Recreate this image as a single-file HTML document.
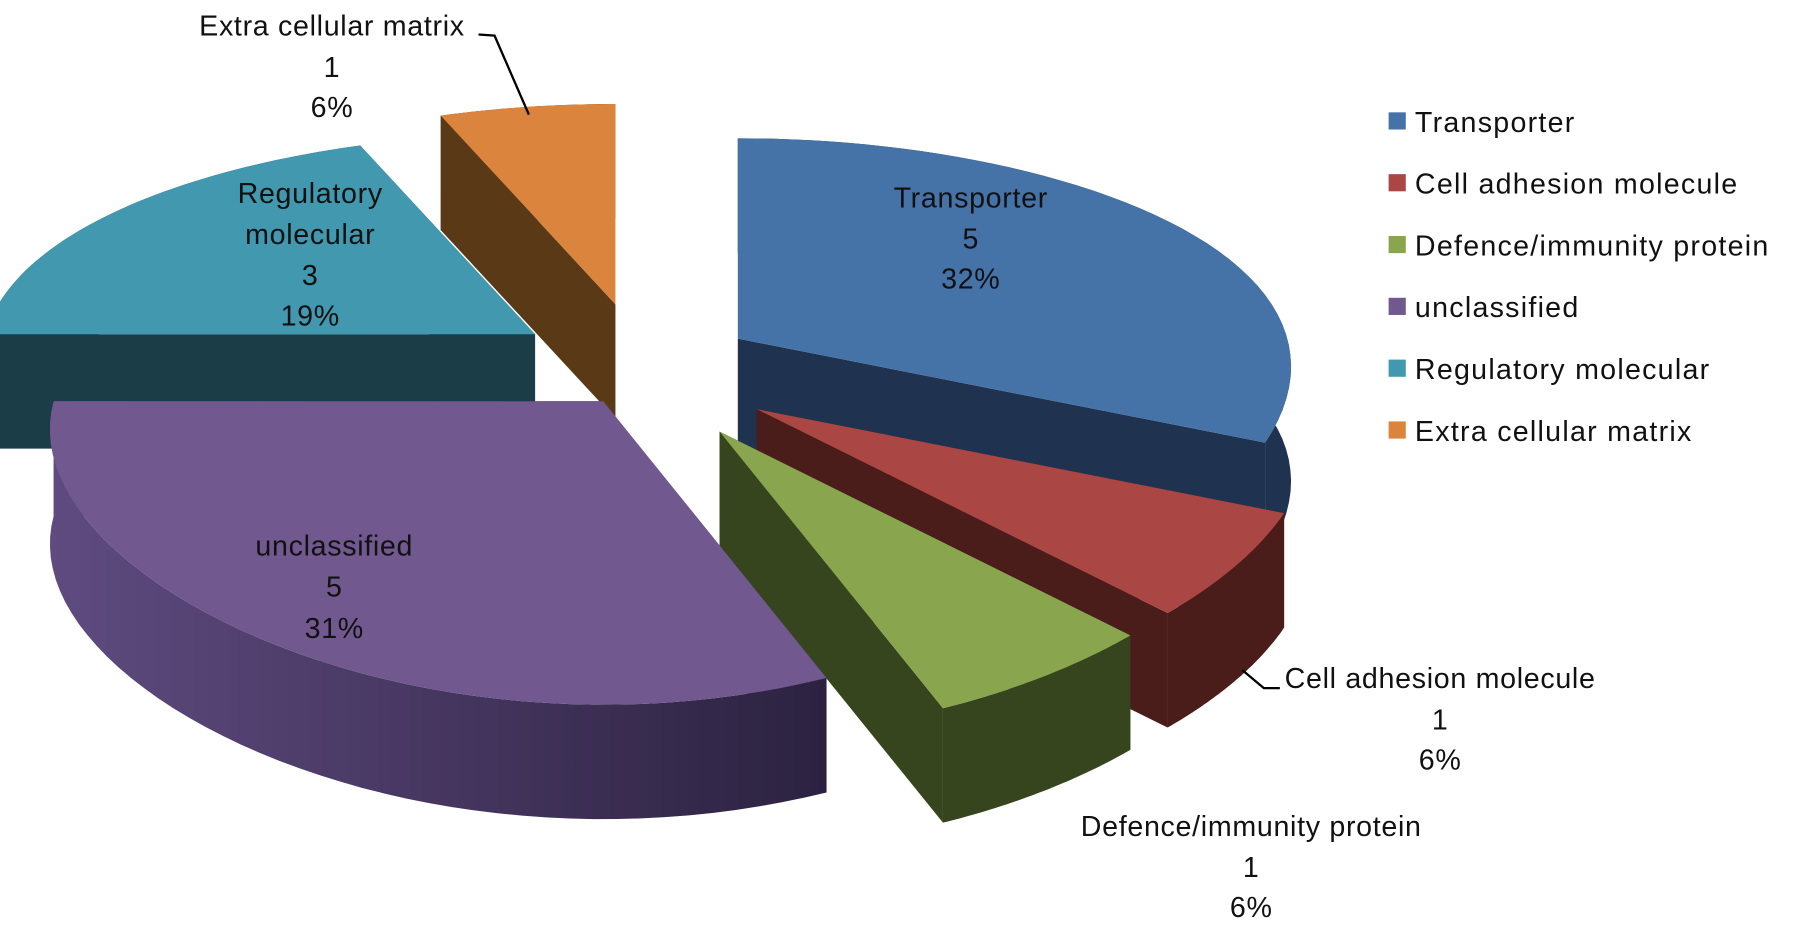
<!DOCTYPE html>
<html><head><meta charset="utf-8"><style>
html,body{margin:0;padding:0;background:#fff;}
svg{display:block;}
text{font-family:"Liberation Sans",sans-serif;font-size:25px;letter-spacing:0.6px;fill:#111;}
#legend text{letter-spacing:1.1px;}
</style></head><body>
<svg id="chart" width="1795" height="931" viewBox="0 0 1568 813" xmlns="http://www.w3.org/2000/svg">
<defs>
<linearGradient id="gU" x1="0" y1="0" x2="1" y2="0">
<stop offset="0" stop-color="#5f4b80"/><stop offset="1" stop-color="#2c2240"/>
</linearGradient>
</defs>
<g id="slices"></g>
<g text-anchor="middle">
<g><text x="290" y="31">Extra cellular matrix</text><text x="290" y="67">1</text><text x="290" y="102">6%</text></g>
<polyline points="418,30 432,31 462,100" fill="none" stroke="#000" stroke-width="2"/>
<g><text x="271" y="177">Regulatory</text><text x="271" y="213">molecular</text><text x="271" y="249">3</text><text x="271" y="284">19%</text></g>
<g><text x="848" y="181">Transporter</text><text x="848" y="217">5</text><text x="848" y="252">32%</text></g>
<g><text x="292" y="485">unclassified</text><text x="292" y="521">5</text><text x="292" y="557">31%</text></g>
<g><text x="1258" y="601">Cell adhesion molecule</text><text x="1258" y="637">1</text><text x="1258" y="672">6%</text></g>
<polyline points="1118,601 1104,601 1085,585" fill="none" stroke="#000" stroke-width="2"/>
<g><text x="1093" y="730">Defence/immunity protein</text><text x="1093" y="766">1</text><text x="1093" y="801">6%</text></g>
</g>
<g id="legend"></g>
</svg>
<script>
const categories = ["Transporter","Cell adhesion molecule","Defence/immunity protein","unclassified","Regulatory molecular","Extra cellular matrix"];
const values = [5,1,1,5,3,1];
const pctLabels = ["32%","6%","6%","31%","19%","6%"];
const explode = [98,118,118,65,115,130];
const topColors = ["#4572a7","#aa4643","#89a54e","#71588f","#4198af","#db843d"];
const sideColors = ["#1f3350","#4a1c1a","#37451f","url(#gU)","#1b3d48","#5a3916"];
const NS="http://www.w3.org/2000/svg";
const D=100,CX=563,CY=318,KYB=0.41,KYF=0.6;
function rx(c){return 480-60*c-30*c*c;}
function ry(c){return 220-45*c;}
function P(t,cx,cy,dz){const s=Math.sin(t),c=Math.cos(t);return [cx+rx(c)*s,cy-ry(c)*c+dz];}
function pts(a){return a.map(p=>p[0].toFixed(1)+","+p[1].toFixed(1)).join(" ");}
const total=values.reduce((a,b)=>a+b,0);
const gS=document.getElementById('slices');
let acc=0;const sl=[];
values.forEach((v,i)=>{const a0=acc/total*2*Math.PI;acc+=v;const a1=acc/total*2*Math.PI;sl.push({i,a0,a1,m:(a0+a1)/2});});
sl.slice().sort((a,b)=>Math.cos(b.m)-Math.cos(a.m)).forEach(s=>{
  const E=explode[s.i],cm=Math.cos(s.m);
  const cx=CX+E*Math.sin(s.m),cy=CY-E*(cm>0?KYB:KYF)*cm;
  const g=document.createElementNS(NS,'g');
  
  
  const arcT=[],arcB=[];const n=48;
  for(let k=0;k<=n;k++){const t=s.a0+(s.a1-s.a0)*k/n;arcT.push(P(t,cx,cy,0));arcB.push(P(t,cx,cy,D));}
  const c0=[cx,cy],c0b=[cx,cy+D];
  const walls=[[c0,arcT[0],arcB[0],c0b],[c0,arcT[n],arcB[n],c0b]];
  walls.forEach(w=>{const p=document.createElementNS(NS,'polygon');
    p.setAttribute('points',pts(w));p.setAttribute('fill',sideColors[s.i]);
    
    
    g.appendChild(p);});
  const side=document.createElementNS(NS,'polygon');
  side.setAttribute('points',pts(arcT.concat(arcB.slice().reverse())));
  side.setAttribute('fill',sideColors[s.i]);
  
  
  g.appendChild(side);
  const top=document.createElementNS(NS,'polygon');
  top.setAttribute('points',pts([c0].concat(arcT)));
  top.setAttribute('fill',topColors[s.i]);
  
  
  g.appendChild(top);
  gS.appendChild(g);
});
const gL=document.getElementById('legend');
categories.forEach((c,i)=>{const y=106+54*i;
  const r=document.createElementNS(NS,'rect');
  r.setAttribute('x',1213);r.setAttribute('y',y-8);r.setAttribute('width',15);r.setAttribute('height',15);r.setAttribute('fill',topColors[i]);
  
  
  gL.appendChild(r);
  const t=document.createElementNS(NS,'text');
  t.setAttribute('x',1236);t.setAttribute('y',y+9);t.textContent=c;
  
  
  gL.appendChild(t);
});
</script>
</body></html>
